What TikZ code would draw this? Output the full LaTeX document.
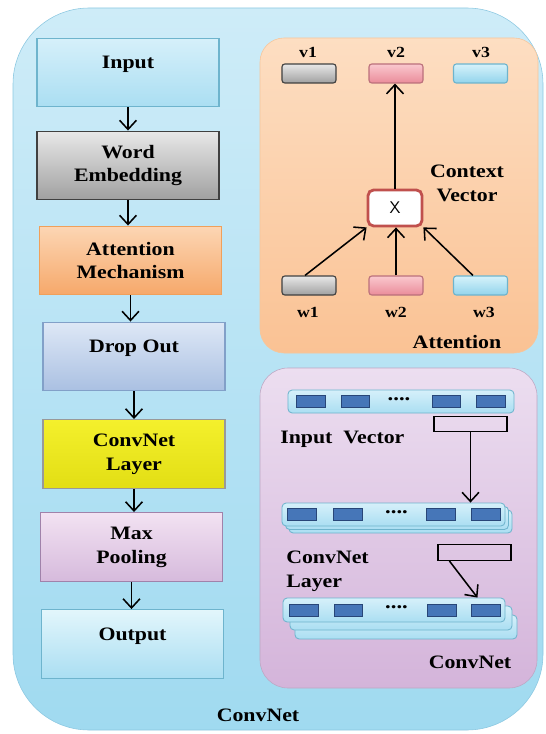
\documentclass[tikz,border=0pt]{standalone}
\usepackage{fontspec}
\setmainfont{Liberation Serif}[FakeStretch=1.15]
\usetikzlibrary{arrows.meta}
\definecolor{SkyTop}{RGB}{206,236,248}
\definecolor{SkyBot}{RGB}{160,218,240}
\definecolor{SkyLine}{RGB}{140,200,225}
\definecolor{InTop}{RGB}{214,240,250}
\definecolor{InBot}{RGB}{170,222,242}
\definecolor{InLine}{RGB}{110,180,205}
\definecolor{GrTop}{RGB}{232,232,232}
\definecolor{GrBot}{RGB}{160,160,160}
\definecolor{OrTop}{RGB}{252,214,180}
\definecolor{OrBot}{RGB}{246,168,106}
\definecolor{OrLine}{RGB}{240,160,90}
\definecolor{DrTop}{RGB}{222,232,246}
\definecolor{DrBot}{RGB}{170,192,226}
\definecolor{DrLine}{RGB}{130,160,200}
\definecolor{YeTop}{RGB}{244,240,44}
\definecolor{YeBot}{RGB}{226,222,20}
\definecolor{PoTop}{RGB}{242,226,242}
\definecolor{PoBot}{RGB}{214,186,220}
\definecolor{PoLine}{RGB}{160,130,170}
\definecolor{PeachTop}{RGB}{253,222,194}
\definecolor{PeachBot}{RGB}{250,194,148}
\definecolor{LilacTop}{RGB}{236,222,240}
\definecolor{LilacBot}{RGB}{212,180,218}
\definecolor{PinkTop}{RGB}{250,200,206}
\definecolor{PinkBot}{RGB}{234,140,154}
\definecolor{CyTop}{RGB}{214,242,250}
\definecolor{CyBot}{RGB}{146,212,236}
\definecolor{SqBlue}{RGB}{70,118,184}
\definecolor{SqDark}{RGB}{40,70,120}
\definecolor{XRed}{RGB}{192,80,77}
\tikzset{
  lay/.style={draw=#1,line width=0.8pt,minimum width=4.55cm,minimum height=1.72cm,
    align=center,font=\bfseries\fontsize{13.5}{17}\selectfont},
  oneline/.style={text height=0.3cm,text depth=0.5cm},
  lbl/.style={font=\bfseries\fontsize{13.5}{17}\selectfont,inner sep=0pt},
  small/.style={font=\bfseries\fontsize{11}{13}\selectfont,inner sep=0pt},
  dots/.style={font=\bfseries\fontsize{14}{14}\selectfont,inner sep=0pt},
  vec/.style={draw=#1,line width=0.8pt,rounded corners=2pt,minimum width=1.35cm,minimum height=0.475cm},
  strip/.style={draw=InLine,line width=0.6pt,top color=InTop,bottom color=InBot,
    rounded corners=3pt,minimum height=0.575cm},
  cell/.style={draw=SqDark,fill=SqBlue,line width=0.6pt,minimum width=0.72cm,minimum height=0.3cm,inner sep=0pt},
  win/.style={draw=black,line width=0.9pt,minimum width=1.825cm,minimum height=0.39cm,inner sep=0pt},
  flow/.style={-{Straight Barb[length=6.5pt,width=12pt]},line width=1.1pt},
}
\begin{document}
\begin{tikzpicture}[x=0.025cm,y=-0.025cm]
\useasboundingbox (0,0) rectangle (545,734);
% outer frame
\draw[draw=SkyLine,top color=SkyTop,bottom color=SkyBot,rounded corners=1.9cm] (13,8) rectangle (543,730);
\node[lbl] (outlbl) at (258,715) {ConvNet};

% left column
\node[lay=InLine,oneline,top color=InTop,bottom color=InBot] (inp) at (128,72.5) {Input};
\node[lay=black!75,top color=GrTop,bottom color=GrBot] (emb) at (128,165.5) {Word\\Embedding};
\node[lay=OrLine,top color=OrTop,bottom color=OrBot] (att) at (130.5,260.5) {Attention\\Mechanism};
\node[lay=DrLine,oneline,top color=DrTop,bottom color=DrBot] (drop) at (134,356.5) {Drop Out};
\node[lay=black!40,top color=YeTop,bottom color=YeBot] (conv) at (134,454) {ConvNet\\Layer};
\node[lay=PoLine,top color=PoTop,bottom color=PoBot] (pool) at (131.5,547) {Max\\Pooling};
\node[lay=InLine,oneline,top color=CyTop!70!white,bottom color=InBot] (out) at (132.5,644) {Output};
\draw[flow] (inp.south) -- (inp.south |- emb.north);
\draw[flow] (emb.south) -- (emb.south |- att.north);
\draw[flow] (att.south) -- (att.south |- drop.north);
\draw[flow] (drop.south) -- (drop.south |- conv.north);
\draw[flow] (conv.south) -- (conv.south |- pool.north);
\draw[flow] (pool.south) -- (pool.south |- out.north);

% attention panel
\draw[draw=OrLine!60,top color=PeachTop,bottom color=PeachBot,rounded corners=0.6cm] (260,38) rectangle (538,353);
\node[vec=black!75,top color=GrTop,bottom color=GrBot] (v1) at (309,73.5) {};
\node[vec=PinkBot!80!black,top color=PinkTop,bottom color=PinkBot] (v2) at (396,73.5) {};
\node[vec=InLine,top color=CyTop,bottom color=CyBot] (v3) at (480.5,73.5) {};
\node[vec=black!75,top color=GrTop,bottom color=GrBot] (w1) at (309,285.5) {};
\node[vec=PinkBot!80!black,top color=PinkTop,bottom color=PinkBot] (w2) at (396,285.5) {};
\node[vec=InLine,top color=CyTop,bottom color=CyBot] (w3) at (480.5,285.5) {};
\node[small] at (308,52) {v1};
\node[small] at (396,52) {v2};
\node[small] at (481,52) {v3};
\node[small] at (308,312) {w1};
\node[small] at (396,312) {w2};
\node[small] at (484,312) {w3};
\node[draw=XRed,line width=2pt,fill=white,rounded corners=4pt,minimum width=1.35cm,minimum height=0.9cm,
  font=\sffamily\fontsize{12}{14}\selectfont] (xbox) at (395,208) {X};
\node[lbl,align=center] (ctx) at (467,183) {Context\\Vector};
\node[lbl] (attlbl) at (457,342) {Attention};
\draw[flow] (xbox.north) -- (xbox.north |- v2.south);
\draw[flow] ([xshift=-0.1cm]w1.north) -- (xbox.south west);
\draw[flow] (w2.north) -- (w2.north |- xbox.south);
\draw[flow] ([xshift=-0.19cm]w3.north) -- (xbox.south east);

% convnet panel
\draw[draw=PoLine!70,top color=LilacTop,bottom color=LilacBot,rounded corners=0.7cm] (260,368) rectangle (537,688);
\node[strip,minimum width=5.65cm] (bar1) at (401,401.5) {};
\foreach \x in {311,355.5,446.5,491} \node[cell] at (\x,401.5) {};
\node[dots] at (399,399) {....};
\node[lbl,anchor=west] (invec) at (280,439) {Input\ \ Vector};
\node[win] (win1) at (470.5,424) {};

\foreach \d in {7,3.5} \node[strip,minimum width=5.575cm] at (393.5+\d,514.5+\d) {};
\node[strip,minimum width=5.575cm] (bar2) at (393.5,514.5) {};
\foreach \x in {302,348,441,486} \node[cell] at (\x,514.5) {};
\node[dots] at (396.5,512) {....};
\node[win] (win2) at (474.5,552.5) {};
\node[lbl,anchor=west,align=left] (layerlbl) at (286,571.5) {ConvNet\\Layer};

\foreach \d/\e in {12/17,7/8} \node[strip,minimum width=5.55cm,minimum height=0.6cm] at (394+\d,610+\e) {};
\node[strip,minimum width=5.55cm,minimum height=0.6cm] (bar3) at (394,610) {};
\foreach \x in {304,348.5,442,486} \node[cell] at (\x,610) {};
\node[dots] at (396.5,607.5) {....};
\node[lbl] (cnlbl) at (470,662) {ConvNet};

\draw[flow] (win1.south) -- (win1.south |- bar2.north);
\draw[flow] ([xshift=0.3cm]win2.south west) -- ([xshift=-0.7cm]bar3.north east);
\end{tikzpicture}
\end{document}
